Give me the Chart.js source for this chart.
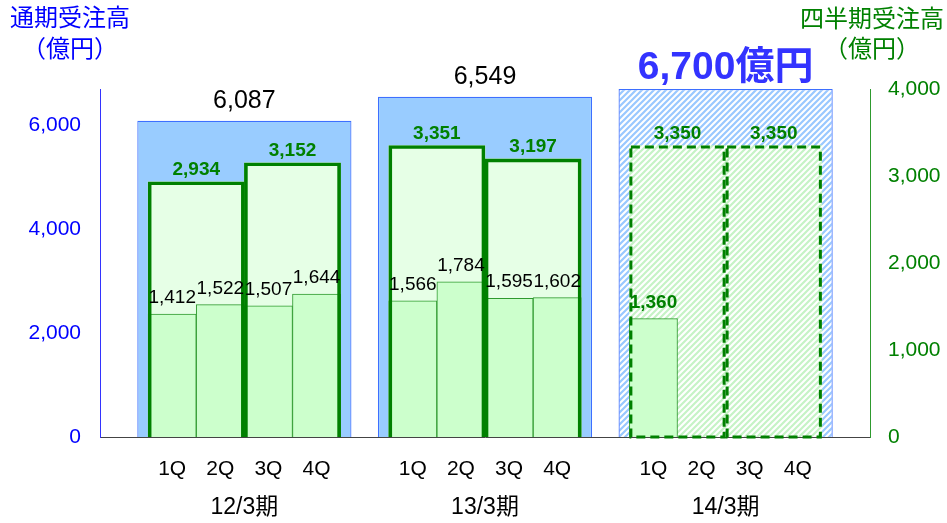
<!DOCTYPE html>
<html lang="ja">
<head>
<meta charset="utf-8">
<title>受注高の推移</title>
<script src="https://cdn.jsdelivr.net/npm/chart.js@4.4.1/dist/chart.umd.min.js"></script>
<style>
  html, body { margin: 0; padding: 0; background: #fff; }
</style>
</head>
<body>
<canvas id="orders" width="947" height="523"></canvas>
<script>
// 受注高の推移（通期・半期・四半期）
const periods = ['12/3期', '13/3期', '14/3期'];
const quarterNames = ['1Q', '2Q', '3Q', '4Q'];
const annualTotals = [6087, 6549, 6700];
const halfYearTotals = [2934, 3152, 3351, 3197, 3350, 3350];
const quarterTotals = [1412, 1522, 1507, 1644, 1566, 1784, 1595, 1602, 1360, null, null, null];
const leftTicks = [0, 2000, 4000, 6000];
const rightTicks = [0, 1000, 2000, 3000, 4000];
const planPeriod = 2; // 14/3期は計画

const FONT = '"Liberation Sans", "Noto Sans CJK JP", sans-serif';
const BLUE = '#0000ff';
const GREEN = '#008000';

// 1期 = 5区画（四半期4つ + すき間）
const SLOT = 5;
const quarterX = i => Math.floor(i / 4) * SLOT + (i % 4);
const halfX = i => Math.floor(i / 2) * SLOT + (i % 2) * 2 + 0.5;
const yearX = i => i * SLOT + 1.5;
const fmt = v => v.toLocaleString('en-US');

const canvas = document.getElementById('orders');
const ctx = canvas.getContext('2d');

// 計画値用の斜線パターン
function hatch(color) {
  const s = 6;
  const tile = document.createElement('canvas');
  tile.width = s; tile.height = s;
  const g = tile.getContext('2d');
  g.fillStyle = '#fff';
  g.fillRect(0, 0, s, s);
  g.strokeStyle = color;
  g.lineWidth = 2.2;
  g.beginPath();
  g.moveTo(-1, s + 1); g.lineTo(s + 1, -1);
  g.moveTo(-1, 1); g.lineTo(1, -1);
  g.moveTo(s - 1, s + 1); g.lineTo(s + 1, s - 1);
  g.stroke();
  return ctx.createPattern(tile, 'repeat');
}
const blueHatch = hatch('#99c8ff');
const greenHatch = hatch('#c6f3c6');

const halfIsPlan = c => Math.floor(c.dataIndex / 2) === planPeriod;
const yearIsPlan = c => c.dataIndex === planPeriod;

const yearData = annualTotals.map((v, i) => ({x: yearX(i), y: v}));
const halfData = halfYearTotals.map((v, i) => ({x: halfX(i), y: v}));
const quarterData = quarterTotals.map((v, i) => ({x: quarterX(i), y: v}));

// dataset index
const DS_HALF_LINE = 0, DS_QUARTER = 1, DS_HALF_FILL = 2, DS_YEAR = 3;

const fixedTicks = values => scale => { scale.ticks = values.map(v => ({value: v})); };

function xScale(extra) {
  return Object.assign({
    type: 'linear',
    min: -1.5,
    max: 14.5,
    offset: false,
    grid: {display: false, drawTicks: false, offset: false},
    border: {display: false},
    ticks: {autoSkip: false, maxRotation: 0}
  }, extra);
}

// 枠線・数値ラベル
const valueLabels = {
  id: 'valueLabels',
  afterDatasetsDraw(chart) {
    const c = chart.ctx;
    c.save();

    // 計画の半期枠は破線
    c.setLineDash([9, 5]);
    c.lineWidth = 3;
    c.strokeStyle = GREEN;
    chart.getDatasetMeta(DS_HALF_LINE).data.forEach((bar, i) => {
      if (Math.floor(i / 2) !== planPeriod) return;
      const left = bar.x - bar.width / 2;
      c.strokeRect(left + 1.5, bar.y + 1.5, bar.width - 3, bar.base - bar.y - 1.5);
    });
    c.setLineDash([]);

    c.textAlign = 'center';
    c.textBaseline = 'middle';

    chart.getDatasetMeta(DS_YEAR).data.forEach((bar, i) => {
      if (i === planPeriod) {
        c.font = 'bold 39px ' + FONT;
        c.fillStyle = '#3333ff';
        c.fillText(fmt(annualTotals[i]) + '億円', bar.x, bar.y - 21);
      } else {
        c.font = '25px ' + FONT;
        c.fillStyle = '#000';
        c.fillText(fmt(annualTotals[i]), bar.x, bar.y - 20);
      }
    });

    c.font = 'bold 19px ' + FONT;
    c.fillStyle = GREEN;
    chart.getDatasetMeta(DS_HALF_LINE).data.forEach((bar, i) => {
      c.fillText(fmt(halfYearTotals[i]), bar.x, bar.y - 12);
    });

    chart.getDatasetMeta(DS_QUARTER).data.forEach((bar, i) => {
      const v = quarterTotals[i];
      if (v == null) return;
      const plan = Math.floor(i / 4) === planPeriod;
      c.font = (plan ? 'bold ' : '') + '19px ' + FONT;
      c.fillStyle = plan ? GREEN : '#000';
      c.fillText(fmt(v), bar.x, bar.y - 16);
    });

    c.restore();
  }
};

// 縦軸の見出し
const axisTitles = {
  id: 'axisTitles',
  afterDraw(chart) {
    const c = chart.ctx;
    const left = chart.scales.y.right - 30;
    const right = chart.scales.y2.left + 2;
    c.save();
    c.font = '24px ' + FONT;
    c.textAlign = 'center';
    c.textBaseline = 'middle';
    c.fillStyle = BLUE;
    c.fillText('通期受注高', left, 19);
    c.fillText('（億円）', left, 50);
    c.fillStyle = GREEN;
    c.fillText('四半期受注高', right, 20);
    c.fillText('（億円）', right, 50);
    c.restore();
  }
};

new Chart(ctx, {
  type: 'bar',
  data: {
    datasets: [
      {
        label: '半期（枠）',
        data: halfData,
        xAxisID: 'xHalf',
        yAxisID: 'y2',
        order: 0,
        grouped: false,
        categoryPercentage: 1,
        barPercentage: 1,
        backgroundColor: 'rgba(0,0,0,0)',
        borderColor: GREEN,
        borderWidth: c => halfIsPlan(c) ? 0 : 3
      },
      {
        label: '四半期受注高',
        data: quarterData,
        xAxisID: 'x',
        yAxisID: 'y2',
        order: 1,
        grouped: false,
        categoryPercentage: 1,
        barPercentage: 1,
        backgroundColor: '#ccffcc',
        borderColor: '#2f9a2f',
        borderWidth: 1
      },
      {
        label: '半期受注高',
        data: halfData,
        xAxisID: 'xHalf',
        yAxisID: 'y2',
        order: 2,
        grouped: false,
        categoryPercentage: 1,
        barPercentage: 1,
        backgroundColor: c => halfIsPlan(c) ? greenHatch : '#e6ffe6',
        borderWidth: 0
      },
      {
        label: '通期受注高',
        data: yearData,
        xAxisID: 'xYear',
        yAxisID: 'y',
        order: 3,
        grouped: false,
        clip: false,
        categoryPercentage: 1,
        barPercentage: 0.89,
        backgroundColor: c => yearIsPlan(c) ? blueHatch : '#99ccff',
        borderColor: '#3d6fff',
        borderWidth: 1.2
      }
    ]
  },
  options: {
    responsive: false,
    animation: false,
    layout: {padding: {top: 89, right: 0, bottom: 0, left: 0}},
    plugins: {
      legend: {display: false},
      tooltip: {enabled: false}
    },
    scales: {
      x: xScale({
        position: 'bottom',
        weight: 0,
        border: {display: true, color: '#444', width: 1},
        afterBuildTicks: fixedTicks(quarterTotals.map((v, i) => quarterX(i))),
        afterFit: s => { s.height = 50; },
        ticks: {
          autoSkip: false, maxRotation: 0, padding: 20, color: '#000',
          font: {family: FONT, size: 21},
          callback: (v, i) => quarterNames[i % 4]
        }
      }),
      xYear: xScale({
        position: 'bottom',
        weight: 1,
        afterBuildTicks: fixedTicks(periods.map((p, i) => yearX(i))),
        afterFit: s => { s.height = 36; },
        ticks: {
          autoSkip: false, maxRotation: 0, padding: 7, color: '#000',
          font: {family: FONT, size: 23},
          callback: (v, i) => periods[i]
        }
      }),
      xHalf: xScale({
        display: false,
        afterBuildTicks: fixedTicks(halfYearTotals.map((v, i) => halfX(i)))
      }),
      y: {
        position: 'left',
        min: 0,
        max: 6700,
        grid: {display: false, drawTicks: false},
        border: {display: true, color: '#3333ff', width: 1},
        afterBuildTicks: fixedTicks(leftTicks),
        afterFit: s => { s.width = 100; },
        ticks: {
          padding: 19, color: BLUE,
          font: {family: FONT, size: 21},
          callback: v => fmt(v)
        }
      },
      y2: {
        position: 'right',
        min: 0,
        max: 4000,
        grid: {display: false, drawTicks: false},
        border: {display: true, color: '#2e9a2e', width: 1},
        afterBuildTicks: fixedTicks(rightTicks),
        afterFit: s => { s.width = 77; },
        ticks: {
          padding: 18, color: GREEN,
          font: {family: FONT, size: 21},
          callback: v => fmt(v)
        }
      }
    }
  },
  plugins: [valueLabels, axisTitles]
});
</script>
</body>
</html>
